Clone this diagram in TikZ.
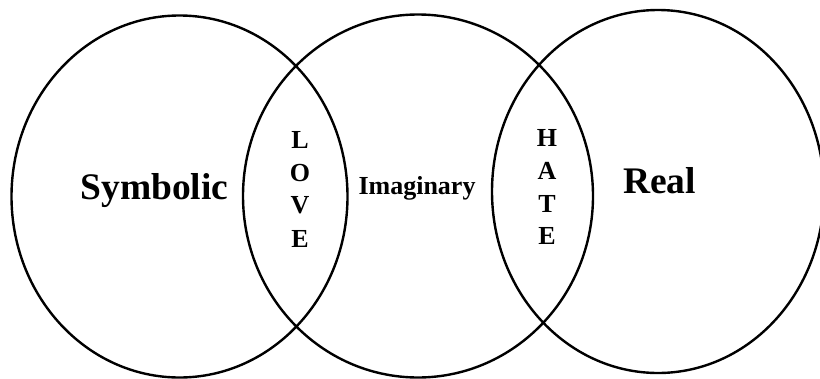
\documentclass[tikz,border=0pt]{standalone}
\usepackage{fontspec}
\setmainfont{Liberation Serif}
\begin{document}
\begin{tikzpicture}[x=1pt,y=-1pt,
  ring/.style={draw=black,line width=2.4pt},
  bigword/.style={inner sep=0pt,anchor=base,font=\bfseries\fontsize{37.5}{40}\selectfont},
  midword/.style={inner sep=0pt,anchor=base,font=\bfseries\fontsize{26}{30}\selectfont}]
\useasboundingbox (0,0) rectangle (820,378);
\draw[ring] (179.5,196.5) ellipse [x radius=168, y radius=181];
\draw[ring] (418,196) ellipse [x radius=175, y radius=181.5];
\draw[ring] (658,191.5) ellipse [x radius=166, y radius=181.5];
\node[bigword] (sym) at (154.5,199) {Symbolic};
\node[midword] (ima) at (417,194) {Imaginary};
\node[bigword] (real) at (659.5,193) {Real};
\node[midword] (l1) at (300,148) {L};
\node[midword] (l2) at (300,181) {O};
\node[midword] (l3) at (300,213) {V};
\node[midword] (l4) at (300,247) {E};
\node[midword] (h1) at (547,146) {H};
\node[midword] (h2) at (547,179) {A};
\node[midword] (h3) at (547,212) {T};
\node[midword] (h4) at (547,244) {E};
\end{tikzpicture}
\end{document}
